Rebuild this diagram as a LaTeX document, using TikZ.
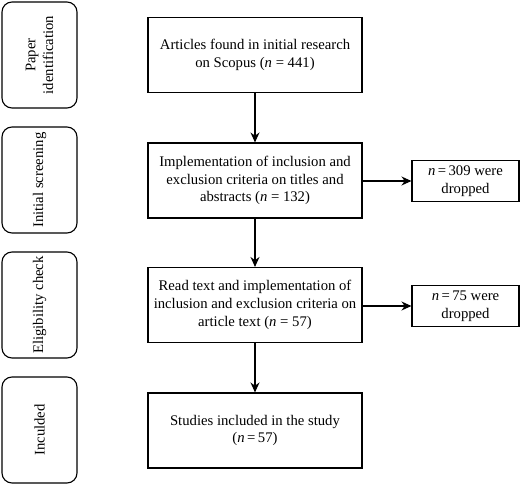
\documentclass[tikz,border=0pt]{standalone}
\usepackage{fontspec}
\setmainfont{Liberation Serif}
\usetikzlibrary{arrows.meta}
\begin{document}
\begin{tikzpicture}[x=1pt,y=-1pt,
  every node/.style={font=\fontsize{14.7}{17.8}\selectfont},
  stage/.style={draw,line width=1.1pt,rounded corners=10pt,rotate=90,
    minimum width=106pt,minimum height=75pt,inner sep=0pt,align=center},
  mainbox/.style={draw,line width=1.1pt,minimum width=214pt,minimum height=75pt,
    inner sep=0pt,align=center},
  dropbox/.style={draw,line width=1.1pt,minimum width=107pt,minimum height=41pt,
    inner sep=0pt,align=center},
  conn/.style={line width=1.1pt,-{Stealth[length=10pt,width=9pt]}}]
\useasboundingbox (0,0) rectangle (520,486);
\node[stage] (s1) at (39.5,55) {Paper\\identification};
\node[stage] (s2) at (39.5,180) {Initial screening};
\node[stage] (s3) at (39.5,305) {Eligibility check};
\node[stage] (s4) at (39.5,430) {Inculded};
\node[mainbox] (a) at (255,55) {Articles found in initial research\\on Scopus (\textit{n} = 441)};
\node[mainbox] (b) at (255,180.5) {Implementation of inclusion and\\exclusion criteria on titles and\\abstracts (\textit{n} = 132)};
\node[mainbox] (c) at (255,305) {Read text and implementation of\\inclusion and exclusion criteria on\\article text (\textit{n} = 57)};
\node[mainbox] (d) at (255,430.5) {Studies included in the study\\(\textit{n}\,=\,57)};
\node[dropbox] (r1) at (465.5,181) {\textit{n}\,=\,309 were\\dropped};
\node[dropbox] (r2) at (465.5,306) {\textit{n}\,=\,75 were\\dropped};
\draw[conn] (a) -- (b);
\draw[conn] (b) -- (c);
\draw[conn] (c) -- (d);
\draw[conn] (b.east |- r1) -- (r1.west);
\draw[conn] (c.east |- r2) -- (r2.west);
\end{tikzpicture}
\end{document}
